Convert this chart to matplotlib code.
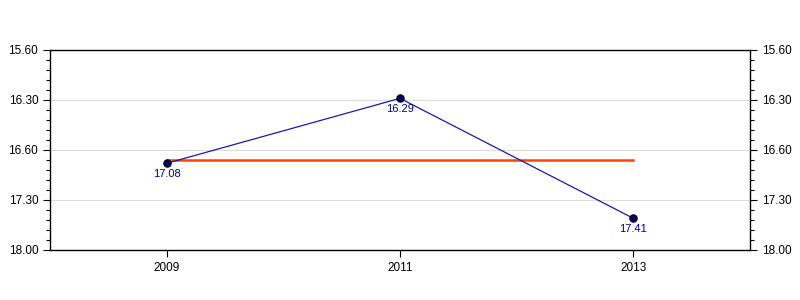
import numpy as np
from matplotlib import pyplot as plt
from matplotlib.ticker import AutoMinorLocator

plt.rcParams['font.family'] = ['Liberation Sans', 'DejaVu Sans']

years = ['2009', '2011', '2013']
times = ['17.08', '16.29', '17.41']  # min.sec
ytick_vals = [16.0, 16.5, 17.0, 17.5, 18.0]
ytick_labels = ['15.60', '16.30', '16.60', '17.30', '18.00']


def to_minutes(s):
    m, sec = s.split('.')
    return int(m) + int(sec) / 60.0

vals = np.array([to_minutes(t) for t in times])
x = np.arange(len(years))
avg = vals.mean()

fig = plt.figure(figsize=(8, 3), dpi=100)
ax = fig.add_axes([0.0625, 0.1667, 0.875, 0.6667])

ax.plot(x, [avg] * len(x), color='#FF4500', lw=1.8, zorder=2)
ax.plot(x, vals, color='#1a1aaa', lw=0.9, zorder=3)
ax.scatter(x, vals, s=28, color='#000066', edgecolors='black', linewidths=0.8, zorder=4)
for xi, v, t in zip(x, vals, times):
    ax.annotate(t, (xi, v), xytext=(0, -4), textcoords='offset points',
                ha='center', va='top', color='#000099', fontsize=8)

ax.set_xlim(-0.5, 2.5)
ax.set_ylim(18.0, 16.0)
ax.set_xticks(x)
ax.set_xticklabels(years)
ax.set_yticks(ytick_vals)
ax.set_yticklabels(ytick_labels)
ax.yaxis.set_minor_locator(AutoMinorLocator(5))
ax.grid(axis='y', color='#dddddd', lw=0.8, zorder=0)
ax.set_axisbelow(True)

ax.tick_params(axis='both', which='major', labelsize=8.5, length=5, width=0.8,
               colors='black')
ax.tick_params(axis='y', which='both', left=True, right=True, labelleft=True,
               labelright=True)
ax.tick_params(axis='y', which='minor', length=3, width=0.8)

for side in ['left', 'right', 'top', 'bottom']:
    ax.spines[side].set_linewidth(1.0)

plt.savefig('out.png', dpi=100)
